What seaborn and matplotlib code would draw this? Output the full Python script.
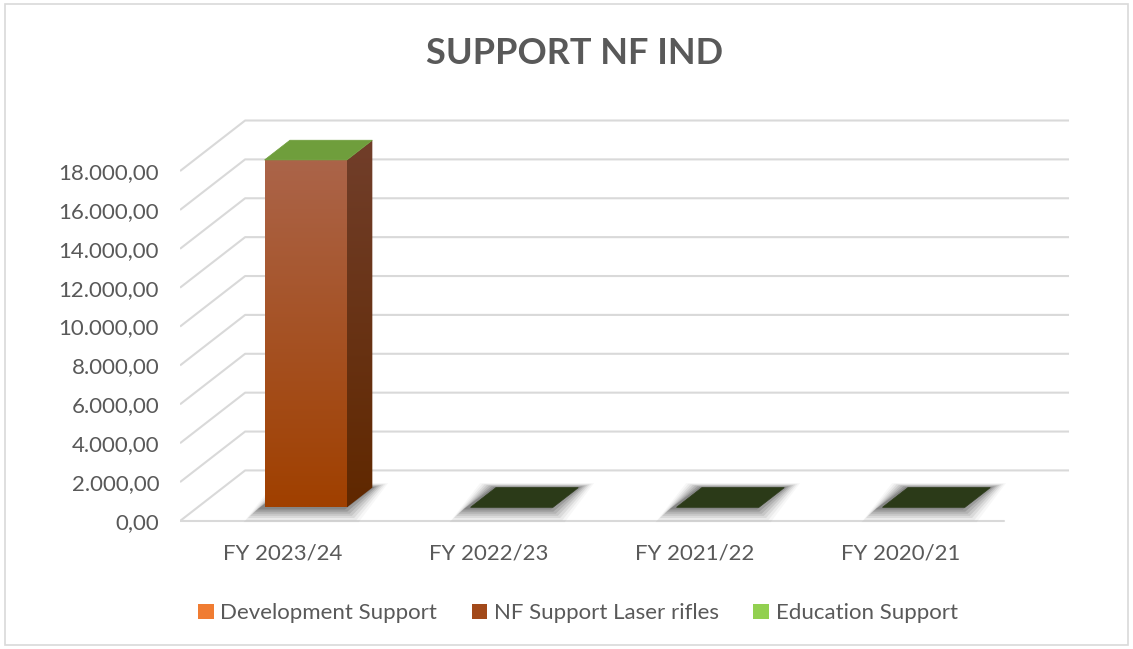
import numpy as np
import pandas as pd
import matplotlib
matplotlib.use("Agg")
import matplotlib.pyplot as plt
import matplotlib.patches as mpatches
from matplotlib.patches import Polygon
import seaborn as sns

# ---------------- data ----------------
categories = ["FY 2023/24", "FY 2022/23", "FY 2021/22", "FY 2020/21"]
series_names = ["Development Support", "NF Support Laser rifles", "Education Support"]
development_support = [0, 0, 0, 0]
nf_support_laser_rifles = [17870, 0, 0, 0]
education_support = [0, 0, 0, 0]
y_ticks = [0, 2000, 4000, 6000, 8000, 10000, 12000, 14000, 16000, 18000]
title = "SUPPORT NF IND"

series_values = [development_support, nf_support_laser_rifles, education_support]
legend_colors = ["#F07C32", "#A2491A", "#92D050"]
front_top = [np.array([244, 137, 74]), np.array([171, 100, 73]), np.array([146, 208, 80])]
front_bot = [np.array([232, 112, 30]), np.array([160, 64, 0]), np.array([120, 180, 60])]
side_top = [np.array([170, 90, 40]), np.array([113, 62, 42]), np.array([90, 130, 50])]
side_bot = [np.array([150, 70, 20]), np.array([96, 40, 0]), np.array([80, 110, 40])]

sns.set_theme(style="white")
plt.rcParams["font.family"] = ["Lato", "DejaVu Sans"]
text_color = "#595959"
grid_color = "#D9D9D9"

fig = plt.figure(figsize=(11.33, 6.49), dpi=100)
ax = fig.add_axes([0.1589, 0.1834, 0.7899, 0.6471])

# pseudo-3D geometry (depth offsets in data units)
DXD = 0.316      # full depth x offset (category units)
DYD = 2600.0     # full depth y offset (value units)
Z0, Z1 = 0.27, 0.66
BAR_W = 0.40
shift_x = Z0 * DXD + 0.025
shift_y = Z0 * DYD
bdx = (Z1 - Z0) * DXD
bdy = (Z1 - Z0) * DYD
n = len(categories)

# gridlines: left wall diagonal + back wall
for v in y_ticks:
    ax.plot([-0.5, -0.5 + DXD, n - 0.5 + DXD], [v, v + DYD, v + DYD],
            color=grid_color, lw=1.5, zorder=0, solid_capstyle="butt")
# floor front edge
ax.plot([-0.5, n - 0.5], [0, 0], color=grid_color, lw=1.5, zorder=0)

# stacked bars via seaborn
totals = np.zeros(n)
front_patches = []
for si, (name, vals) in enumerate(zip(series_names, series_values)):
    before = len(ax.patches)
    sns.barplot(x=categories, y=vals, bottom=totals + shift_y, color=legend_colors[si],
                width=BAR_W, ax=ax, zorder=2, saturation=1, errorbar=None)
    new = ax.patches[before:]
    for p in new:
        p.set_x(p.get_x() + shift_x)
        p.set_linewidth(0)
    front_patches.append(new)
    totals = totals + np.array(vals, dtype=float)


def grad_image(ctop, cbot, N=64):
    t = np.linspace(0, 1, N)[:, None]
    arr = (ctop[None, :] * (1 - t) + cbot[None, :] * t) / 255.0
    return arr[:, None, :]


# shadows at bar bases
for i in range(n):
    x0 = i - BAR_W / 2 + shift_x
    x1 = x0 + BAR_W
    b = shift_y
    for k, a in enumerate(np.linspace(0.14, 0.03, 7)):
        ex = 0.011 * (k + 1)
        ey = 110 * (k + 1)
        poly = [(x0 - ex - 0.025, b - ey), (x1 + ex - 0.02, b - ey),
                (x1 + bdx + ex, b + bdy + ey * 0.3), (x0 + bdx - ex, b + bdy + ey * 0.3)]
        ax.add_patch(Polygon(poly, closed=True, facecolor="black", alpha=a,
                             lw=0, zorder=1))

# front gradients and side faces
for si, vals in enumerate(series_values):
    for i, p in enumerate(front_patches[si]):
        v = vals[i]
        if v <= 0:
            continue
        x0 = p.get_x()
        x1 = x0 + p.get_width()
        b = p.get_y()
        t = b + p.get_height()
        p.set_facecolor("none")
        im = ax.imshow(grad_image(front_top[si], front_bot[si]), extent=[x0, x1, b, t],
                       aspect="auto", zorder=2, origin="upper", interpolation="bilinear")
        im.set_clip_path(p)
        side = Polygon([(x1, b), (x1 + bdx, b + bdy), (x1 + bdx, t + bdy), (x1, t)],
                       closed=True, facecolor="none", lw=0, zorder=3)
        ax.add_patch(side)
        im2 = ax.imshow(grad_image(side_top[si], side_bot[si]),
                        extent=[x1, x1 + bdx, b, t + bdy],
                        aspect="auto", zorder=3, origin="upper", interpolation="bilinear")
        im2.set_clip_path(side)

# top faces (top series = Education Support)
for i in range(n):
    x0 = i - BAR_W / 2 + shift_x
    x1 = x0 + BAR_W
    t = totals[i] + shift_y
    col = "#6F9E3C" if totals[i] > 0 else "#2B3A18"
    ax.add_patch(Polygon([(x0, t), (x1, t), (x1 + bdx, t + bdy), (x0 + bdx, t + bdy)],
                         closed=True, facecolor=col, edgecolor=col, lw=0.5, zorder=4))

ax.set_xlim(-0.5, 3.845)
ax.set_ylim(-463, 21140)
ax.set_yticks(y_ticks)
ax.set_yticklabels([f"{v:,.2f}".replace(",", "X").replace(".", ",").replace("X", ".")
                    for v in y_ticks])
ax.set_xticks(range(n))
ax.set_xticklabels(categories)
ax.tick_params(axis="both", length=0, colors=text_color, labelsize=16)
ax.tick_params(axis="y", pad=15)
ax.tick_params(axis="x", pad=10)
ax.set_xlabel("")
ax.set_ylabel("")
for s in ax.spines.values():
    s.set_visible(False)
ax.grid(False)
ax.set_facecolor("none")

fig.text(0.5075, 0.917, title, ha="center", va="center", fontsize=26,
         fontweight="bold", color=text_color)

handles = [mpatches.Patch(facecolor=c, edgecolor="none", label=nm)
           for c, nm in zip(legend_colors, series_names)]
leg = fig.legend(handles=handles, loc="center", bbox_to_anchor=(0.51, 0.055), ncol=3,
                 frameon=False, fontsize=16, handlelength=0.7, handleheight=0.7,
                 handletextpad=0.3, columnspacing=1.55)
for txt in leg.get_texts():
    txt.set_color(text_color)

fig.patches.append(mpatches.Rectangle((0.004, 0.006), 0.992, 0.988, transform=fig.transFigure,
                                      fill=False, edgecolor="#D9D9D9", lw=1.2))

fig.savefig("out.png", dpi=100)
